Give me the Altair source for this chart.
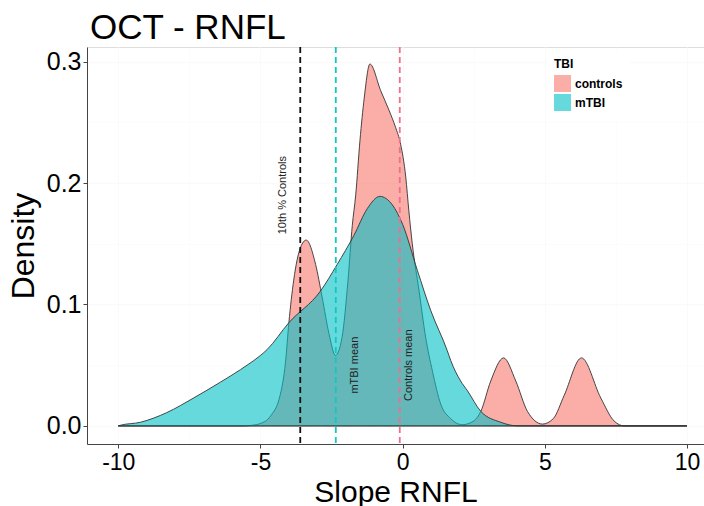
import altair as alt
import pandas as pd

# Density estimates of RNFL slope, by group
ctrl_x = [-10, -5.6, -5.3, -5.0, -4.65, -4.3, -4.12, -4.0, -3.83, -3.59, -3.39, -3.06, -2.83,
          -2.59, -2.36, -2.13, -1.92, -1.77, -1.65, -1.5, -1.35, -1.15, -0.77, -0.48, -0.25,
          -0.07, 0.11, 0.22, 0.34, 0.58, 0.81, 1.05, 1.34, 1.69, 2.1, 2.5, 2.75, 3.1, 3.55,
          3.98, 4.39, 4.92, 5.3, 5.68, 6.29, 6.97, 7.44, 7.8, 10]
ctrl_y = [0, 0, 0.0005, 0.002, 0.008, 0.026, 0.052, 0.085, 0.12, 0.147, 0.153, 0.133, 0.106,
          0.076, 0.058, 0.073, 0.12, 0.165, 0.19, 0.235, 0.27, 0.298, 0.276, 0.26, 0.246,
          0.232, 0.205, 0.177, 0.15, 0.111, 0.073, 0.045, 0.018, 0.006, 0.001, 0.004, 0.012,
          0.037, 0.056, 0.037, 0.012, 0.0015, 0.006, 0.025, 0.056, 0.023, 0.004, 0, 0]

mtbi_x = [-10, -9.93, -9.22, -8.29, -7.35, -6.41, -5.47, -5.0, -4.76, -4.0, -2.89, -2.3,
          -1.71, -1.24, -0.8, -0.36, 0.0, 0.52, 0.99, 1.57, 1.69, 2.04, 2.28, 2.75, 3.45,
          4.04, 10]
mtbi_y = [0, 0.0005, 0.003, 0.011, 0.023, 0.036, 0.050, 0.058, 0.063, 0.085, 0.111, 0.133,
          0.157, 0.179, 0.189, 0.182, 0.166, 0.128, 0.095, 0.062, 0.054, 0.037, 0.029, 0.012,
          0.003, 0, 0]

groups = ["controls", "mTBI"]
group_colors = ["#F8766D", "#00BFC4"]

# Reference lines: 10th percentile of controls, mTBI mean, controls mean
vline_x = [-3.6, -2.35, -0.1]
vline_colors = ["#111111", "#10C8C0", "#F0708C"]

notes = ["10th % Controls", "mTBI mean", "Controls mean"]
note_x = [-4.19, -1.69, 0.21]
note_y = [0.19, 0.05, 0.05]

x_ticks = [-10, -7.5, -5, -2.5, 0, 2.5, 5, 7.5, 10]
y_ticks = [0, 0.05, 0.1, 0.15, 0.2, 0.25, 0.3]

FONT = "Liberation Sans"

dens = pd.concat([
    pd.DataFrame({"slope": ctrl_x, "density": ctrl_y, "TBI": groups[0]}),
    pd.DataFrame({"slope": mtbi_x, "density": mtbi_y, "TBI": groups[1]}),
])
lines = pd.DataFrame({"x": vline_x, "c": vline_colors})
labels = pd.DataFrame({"x": note_x, "y": note_y, "t": notes})

x_scale = alt.Scale(domain=[-11.1, 10.6], nice=False, zero=False)
y_scale = alt.Scale(domain=[-0.0149, 0.312], nice=False, zero=False)

major_x = "datum.value % 5 === 0"
major_y = "abs(datum.value * 10 - round(datum.value * 10)) < 0.001"

x_axis = alt.Axis(
    values=x_ticks, labelExpr=f"{major_x} ? toString(datum.value) : ''",
    grid=True, gridColor="#FAFAFA",
    gridWidth={"condition": {"test": major_x, "value": 1.3}, "value": 0.6},
    tickOpacity={"condition": {"test": major_x, "value": 1}, "value": 0},
    tickSize=4, tickColor="#444444", domainColor="#444444",
    labelFontSize=23, labelColor="black", labelFont=FONT, labelPadding=3,
    title="Slope RNFL", titleFontSize=30, titleFontWeight="normal", titleFont=FONT,
    titleColor="black", titlePadding=3,
)
y_axis = alt.Axis(
    values=y_ticks, labelExpr=f"{major_y} ? format(datum.value, '.1f') : ''",
    grid=True, gridColor="#FAFAFA",
    gridWidth={"condition": {"test": major_y, "value": 1.3}, "value": 0.6},
    tickOpacity={"condition": {"test": major_y, "value": 1}, "value": 0},
    tickSize=4, tickColor="#444444", domainColor="#444444",
    labelFontSize=25, labelColor="black", labelFont=FONT, labelPadding=2,
    title="Density", titleFontSize=32, titleFontWeight="normal", titleFont=FONT,
    titleColor="black", titlePadding=6,
)

fill_enc = alt.Fill(
    "TBI:N",
    scale=alt.Scale(domain=groups, range=group_colors),
    legend=alt.Legend(
        title="TBI", orient="none", legendX=460, legendY=5, fillColor="white",
        padding=7, titleFontSize=12, titleFontWeight="bold", titleFont=FONT,
        titleColor="black", labelFontSize=12, labelFontWeight="bold", labelFont=FONT,
        labelColor="black", symbolType="square", symbolSize=289, symbolStrokeWidth=0,
        symbolOpacity=0.6, rowPadding=2, labelOffset=4, titlePadding=4,
    ),
)

def density_layer(name):
    return alt.Chart(dens).transform_filter(
        alt.datum.TBI == name
    ).mark_area(
        interpolate="monotone", fillOpacity=0.6, stroke="#333333", strokeWidth=0.9
    ).encode(
        x=alt.X("slope:Q", scale=x_scale, axis=x_axis),
        y=alt.Y("density:Q", scale=y_scale, axis=y_axis, stack=None),
        fill=fill_enc,
    )

rules = alt.Chart(lines).mark_rule(strokeDash=[6, 4], strokeWidth=1.8).encode(
    x=alt.X("x:Q", scale=x_scale),
    color=alt.Color("c:N", scale=None),
)

texts = alt.Chart(labels).mark_text(
    angle=270, fontSize=11, font=FONT, color="#222222", align="center", baseline="middle"
).encode(
    x=alt.X("x:Q", scale=x_scale),
    y=alt.Y("y:Q", scale=y_scale),
    text="t:N",
)

chart = alt.layer(density_layer("controls"), density_layer("mTBI"), rules, texts).properties(
    width=617,
    height=397,
    title=alt.TitleParams(
        "OCT - RNFL", anchor="start", frame="group", fontSize=35, fontWeight="normal",
        font=FONT, color="black", offset=0, dx=3,
    ),
    autosize=alt.AutoSizeParams(type="none"),
    padding={"left": 87, "top": 47, "right": 0, "bottom": 62},
).configure_view(
    fill="#EDEDED", stroke=None
).configure(background="white")

chart.save("out.html", embed_options={"renderer": "svg", "actions": False})
